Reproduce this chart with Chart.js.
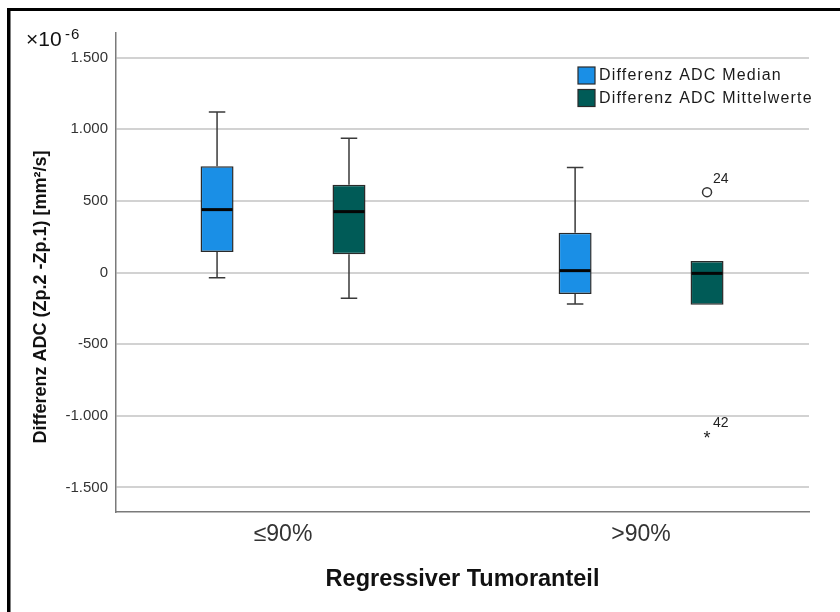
<!DOCTYPE html>
<html>
<head>
<meta charset="utf-8">
<script src="https://cdn.jsdelivr.net/npm/chart.js@4"></script>
<style>
  html, body { margin: 0; padding: 0; background: #ffffff; }
  #wrap { width: 840px; height: 612px; position: relative; }
</style>
</head>
<body>
<div id="wrap"><canvas id="chart" width="840" height="612"></canvas></div>
<script>
// Groups on the x axis
const categories = ['≤90%', '>90%'];
const seriesNames = ['Differenz ADC Median', 'Differenz ADC Mittelwerte'];

// Box statistics per group (×10^-6 mm²/s)
const medianWhiskerLow  = [-36, -220];
const medianQ1          = [143, -150];
const medianMid         = [439, 13];
const medianQ3          = [742, 278];
const medianWhiskerHigh = [1120, 733];

const meanWhiskerLow  = [-180, -225];
const meanQ1          = [127, -225];
const meanMid         = [425, -6];
const meanQ3          = [612, 80];
const meanWhiskerHigh = [938, 80];

// Flagged cases: [group index, value, case number, kind]
const medianFlagged = [];
const meanFlagged = [[1, 561, '24', 'outlier'], [1, -1141, '42', 'extreme']];

const yTickValues = [-1500, -1000, -500, 0, 500, 1000, 1500];
const seriesColors = ['#1a8fe6', '#005b57'];

const FONT = "'Liberation Sans', Arial, sans-serif";

function germanNumber(v) {
  const s = String(Math.abs(v)).replace(/\B(?=(\d{3})+(?!\d))/g, '.');
  return (v < 0 ? '-' : '') + s;
}

function makeDataset(i, q1, q3, lo, mid, hi, flagged) {
  return {
    label: seriesNames[i],
    data: categories.map((_, k) => ({ x: k, y: [q1[k], q3[k]] })),
    whiskerLow: lo, median: mid, whiskerHigh: hi, flagged: flagged,
    backgroundColor: seriesColors[i],
    borderColor: '#2a2a2a',
    borderWidth: 1.5,
    borderSkipped: false,
    categoryPercentage: 0.737,
    barPercentage: 0.25
  };
}

// Whiskers, median bars and flagged cases drawn on top of the boxes
const boxParts = {
  id: 'boxParts',
  afterDatasetsDraw(chart) {
    const ctx = chart.ctx, ys = chart.scales.y;
    chart.data.datasets.forEach((ds, di) => {
      const meta = chart.getDatasetMeta(di);
      meta.data.forEach((bar, k) => {
        const x = bar.x, w = bar.width, cap = w * 0.5;
        const q1 = ds.data[k].y[0], q3 = ds.data[k].y[1];
        ctx.save();
        ctx.strokeStyle = '#3a3a3a';
        ctx.lineWidth = 1.5;
        ctx.beginPath();
        if (ds.whiskerHigh[k] > q3) {
          const yt = ys.getPixelForValue(ds.whiskerHigh[k]);
          ctx.moveTo(x, ys.getPixelForValue(q3)); ctx.lineTo(x, yt);
          ctx.moveTo(x - cap / 2, yt); ctx.lineTo(x + cap / 2, yt);
        }
        if (ds.whiskerLow[k] < q1) {
          const yb = ys.getPixelForValue(ds.whiskerLow[k]);
          ctx.moveTo(x, ys.getPixelForValue(q1)); ctx.lineTo(x, yb);
          ctx.moveTo(x - cap / 2, yb); ctx.lineTo(x + cap / 2, yb);
        }
        ctx.stroke();
        const ym = ys.getPixelForValue(ds.median[k]);
        ctx.strokeStyle = '#050505';
        ctx.lineWidth = 3;
        ctx.beginPath();
        ctx.moveTo(x - w / 2 + 1, ym); ctx.lineTo(x + w / 2 - 1, ym);
        ctx.stroke();
        ctx.restore();
      });
      ds.flagged.forEach(([k, v, label, kind]) => {
        const bar = meta.data[k];
        const x = bar.x, y = ys.getPixelForValue(v);
        ctx.save();
        if (kind === 'outlier') {
          ctx.beginPath();
          ctx.arc(x, y, 4.5, 0, Math.PI * 2);
          ctx.fillStyle = '#ffffff';
          ctx.fill();
          ctx.strokeStyle = '#333333';
          ctx.lineWidth = 1.5;
          ctx.stroke();
        } else {
          ctx.fillStyle = '#222222';
          ctx.font = '18px ' + FONT;
          ctx.textAlign = 'center';
          ctx.textBaseline = 'middle';
          ctx.fillText('*', x, y + 3);
        }
        ctx.fillStyle = '#222222';
        ctx.font = '14px ' + FONT;
        ctx.textAlign = 'left';
        ctx.textBaseline = 'alphabetic';
        ctx.fillText(label, x + 6, y - 9);
        ctx.restore();
      });
    });
  }
};

// Legend, axis titles, exponent note and frame
const decorations = {
  id: 'decorations',
  afterDraw(chart) {
    const ctx = chart.ctx;
    ctx.save();
    // legend inside the plot area
    chart.data.datasets.forEach((ds, i) => {
      const top = 67 + i * 22.5;
      ctx.fillStyle = ds.backgroundColor;
      ctx.fillRect(578, top, 17, 17);
      ctx.strokeStyle = '#2a2a2a';
      ctx.lineWidth = 1.2;
      ctx.strokeRect(578, top, 17, 17);
      ctx.fillStyle = '#1a1a1a';
      ctx.font = '16px ' + FONT;
      ctx.letterSpacing = '1.2px';
      ctx.textAlign = 'left';
      ctx.textBaseline = 'middle';
      ctx.fillText(ds.label, 599, top + 9);
      ctx.letterSpacing = '0px';
    });
    // y axis title
    ctx.save();
    ctx.translate(41, 297);
    ctx.rotate(-Math.PI / 2);
    ctx.fillStyle = '#111111';
    ctx.font = 'bold 18px ' + FONT;
    ctx.textAlign = 'center';
    ctx.textBaseline = 'middle';
    ctx.fillText('Differenz ADC (Zp.2 -Zp.1) [mm²/s]', 0, 0);
    ctx.restore();
    // x axis title
    ctx.fillStyle = '#111111';
    ctx.font = 'bold 23.5px ' + FONT;
    ctx.textAlign = 'center';
    ctx.textBaseline = 'middle';
    const ca = chart.chartArea;
    ctx.fillText('Regressiver Tumoranteil', (ca.left + ca.right) / 2, 580);
    // exponent note
    ctx.textAlign = 'left';
    ctx.textBaseline = 'alphabetic';
    ctx.font = '21px ' + FONT;
    ctx.fillText('×10', 26, 46);
    ctx.font = '15px ' + FONT;
    ctx.letterSpacing = '1px';
    ctx.fillText('-6', 65, 39);
    ctx.letterSpacing = '0px';
    // frame
    ctx.fillStyle = '#000000';
    ctx.fillRect(7, 8, 833, 3);
    ctx.fillRect(7, 8, 3.5, 604);
    ctx.restore();
  }
};

new Chart(document.getElementById('chart'), {
  type: 'bar',
  data: {
    datasets: [
      makeDataset(0, medianQ1, medianQ3, medianWhiskerLow, medianMid, medianWhiskerHigh, medianFlagged),
      makeDataset(1, meanQ1, meanQ3, meanWhiskerLow, meanMid, meanWhiskerHigh, meanFlagged)
    ]
  },
  options: {
    responsive: false,
    animation: false,
    devicePixelRatio: 1,
    layout: { padding: { top: 33, right: 31, left: 0, bottom: 0 } },
    plugins: { legend: { display: false }, tooltip: { enabled: false } },
    scales: {
      x: {
        type: 'linear',
        offset: false,
        min: -0.4665,
        max: 1.469,
        afterBuildTicks: s => { s.ticks = categories.map((_, i) => ({ value: i })); },
        afterFit: s => { s.height = 100; },
        ticks: {
          callback: v => categories[v],
          font: { family: FONT, size: 23 },
          color: '#333333',
          padding: 9,
          maxRotation: 0,
          autoSkip: false
        },
        grid: { display: false, drawTicks: false },
        border: { display: true, color: '#7a7a7a', width: 1.5 }
      },
      y: {
        min: -1672,
        max: 1672,
        afterBuildTicks: s => { s.ticks = yTickValues.map(v => ({ value: v })); },
        afterFit: s => { s.width = 116; },
        ticks: {
          callback: v => germanNumber(v),
          font: { family: FONT, size: 15 },
          color: '#333333',
          padding: 8
        },
        grid: { color: '#d2d2d2', lineWidth: 2, drawTicks: false },
        border: { display: true, color: '#7a7a7a', width: 1.5 }
      }
    }
  },
  plugins: [boxParts, decorations]
});
</script>
</body>
</html>
